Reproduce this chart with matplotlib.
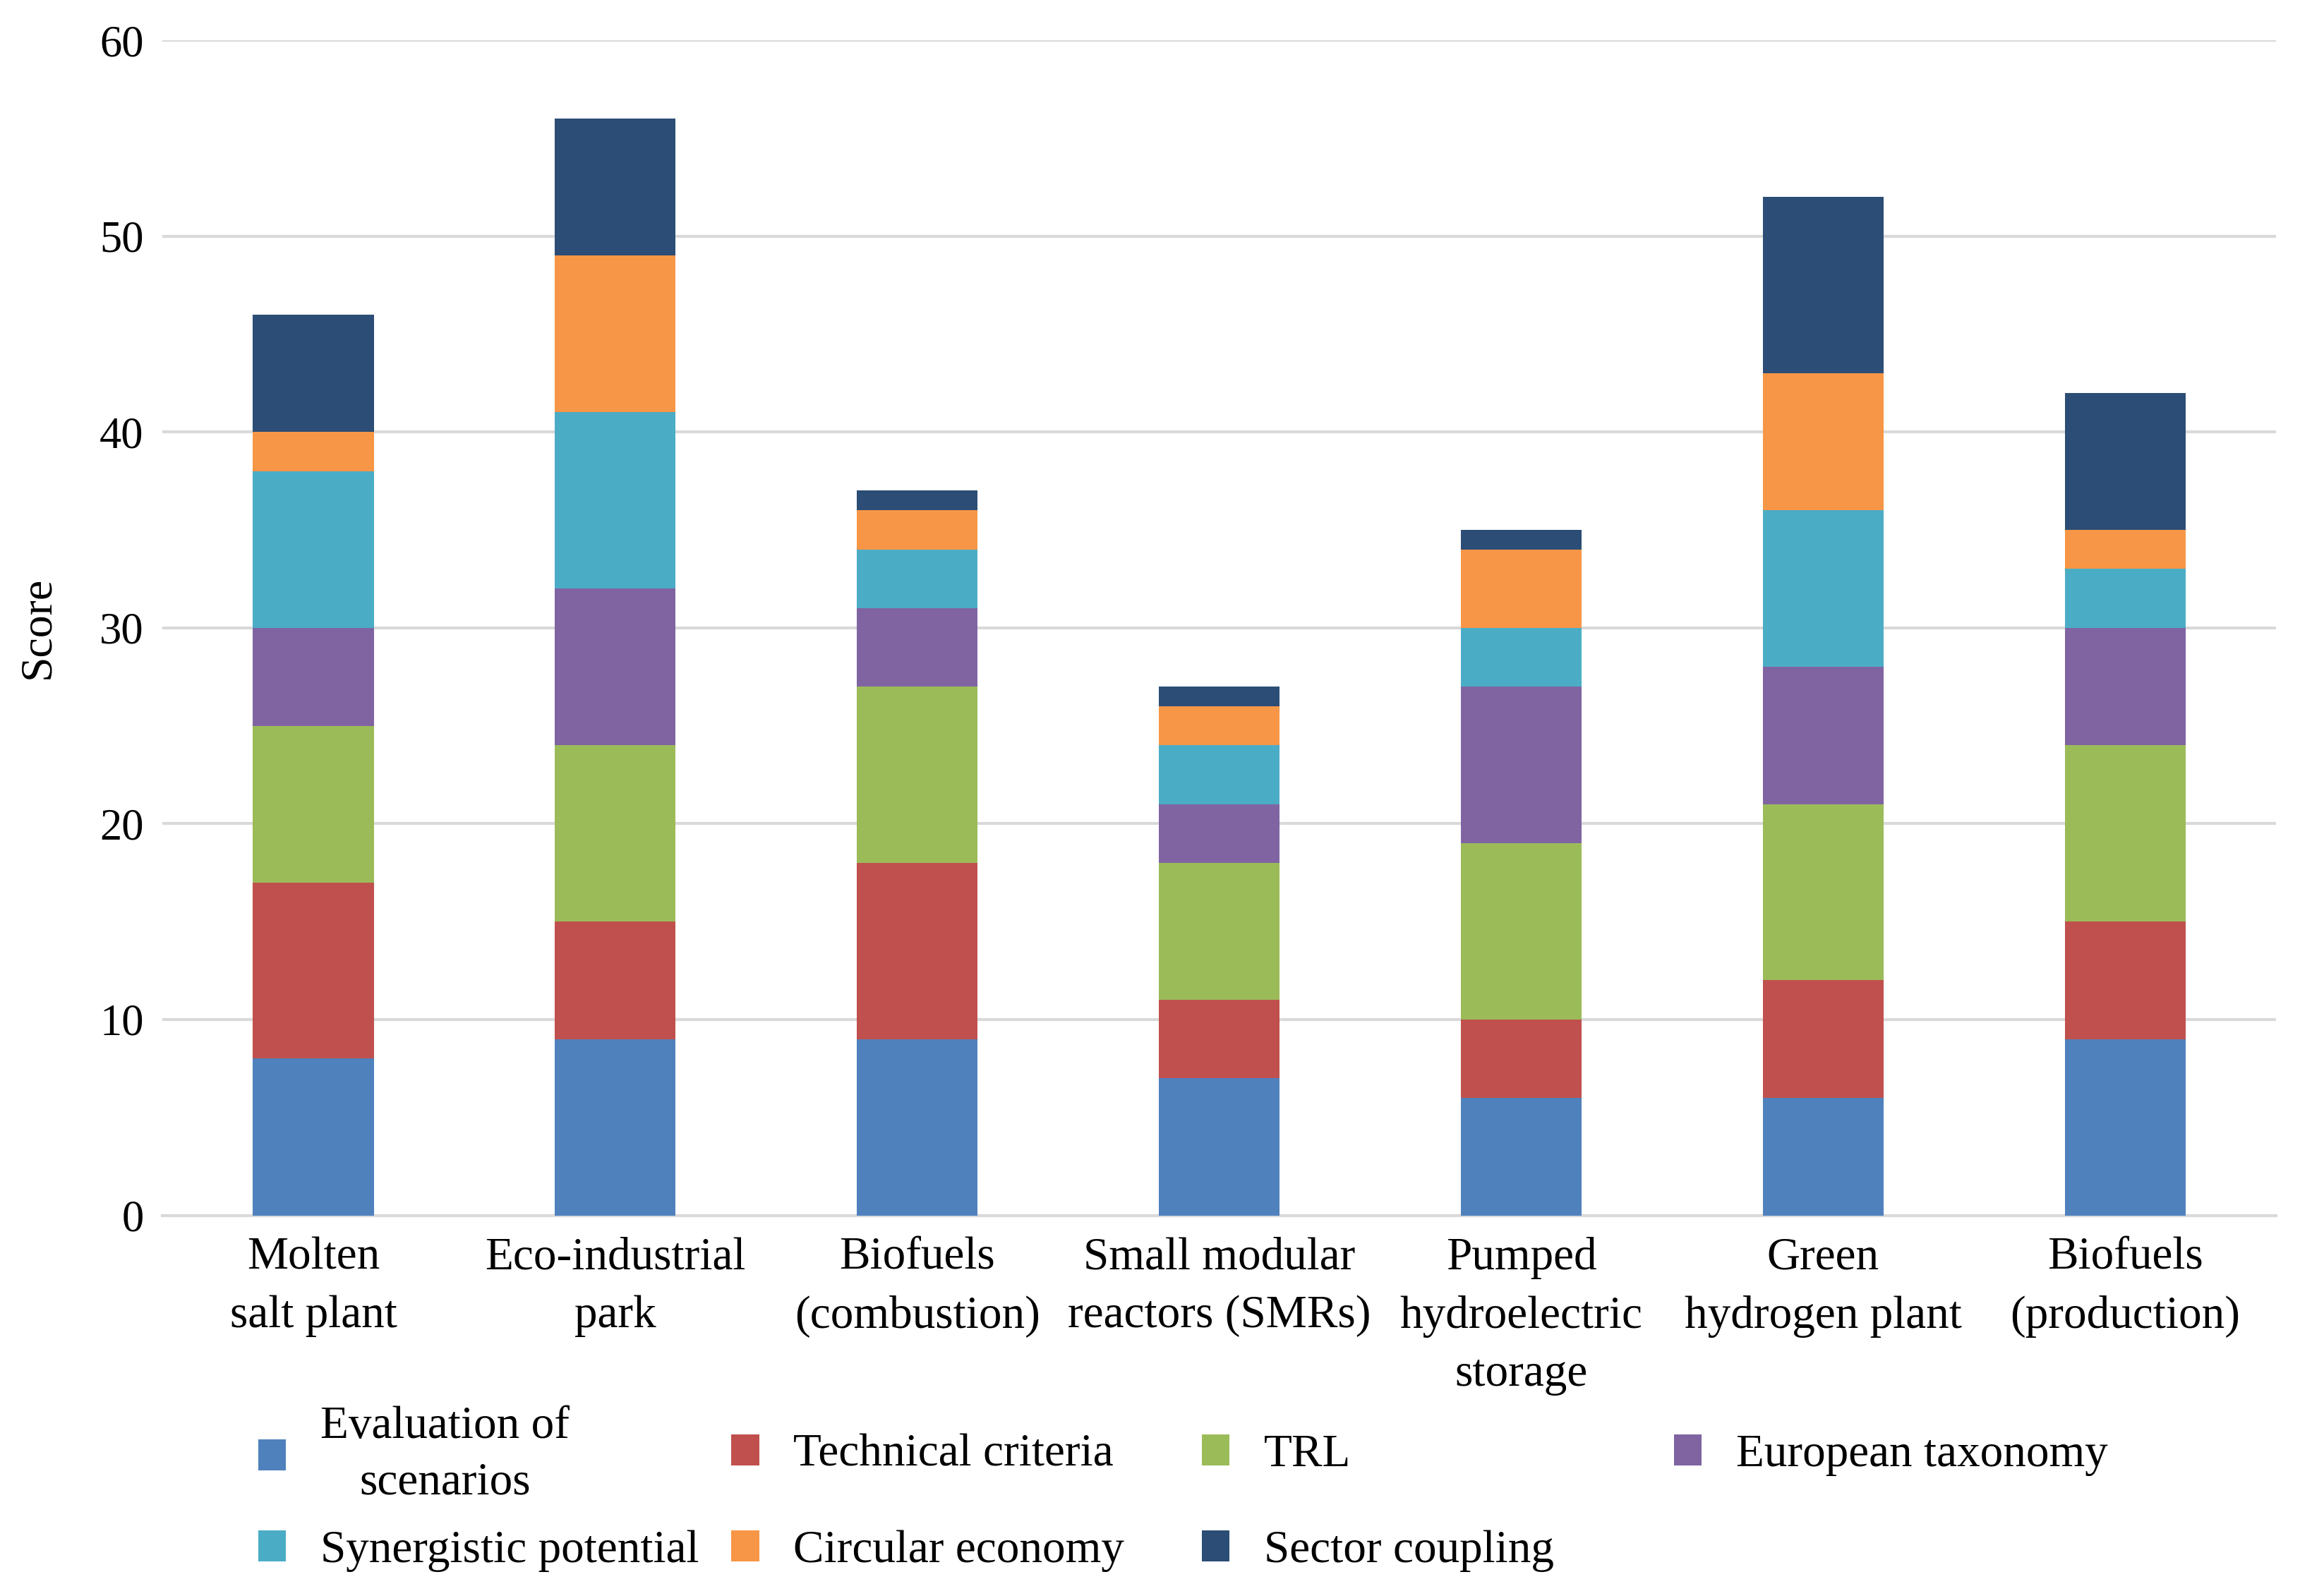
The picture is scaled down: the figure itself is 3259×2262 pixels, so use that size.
#!/usr/bin/env python

import numpy as np
from matplotlib import pyplot as plt

categories = ['Molten\nsalt plant', 'Eco-industrial\npark',
              'Biofuels\n(combustion)', 'Small modular\nreactors (SMRs)',
              'Pumped\nhydroelectric\nstorage', 'Green\nhydrogen plant',
              'Biofuels\n(production)']

series_names = ['Evaluation of\nscenarios', 'Technical criteria', 'TRL',
                'European taxonomy', 'Synergistic potential',
                'Circular economy', 'Sector coupling']

evaluation = [8, 9, 9, 7, 6, 6, 9]
technical = [9, 6, 9, 4, 4, 6, 6]
trl = [8, 9, 9, 7, 9, 9, 9]
taxonomy = [5, 8, 4, 3, 8, 7, 6]
synergy = [8, 9, 3, 3, 3, 8, 3]
circular = [2, 8, 2, 2, 4, 7, 2]
coupling = [6, 7, 1, 1, 1, 9, 7]

colors = ['#4F81BD', '#C0504D', '#9BBB59', '#8064A2', '#4BACC6',
          '#F79646', '#2C4D75']

plt.rcParams['font.family'] = ['Liberation Serif', 'DejaVu Serif']

fig = plt.figure(figsize=(32.59, 22.62), dpi=100)
ax = fig.add_axes([0.0706, 0.2385, 0.919, 0.7363])

x = np.arange(len(categories))
bottom = np.zeros(len(categories))
handles = []
for name, vals, col in zip(series_names,
                           [evaluation, technical, trl, taxonomy, synergy,
                            circular, coupling], colors):
    bars = ax.bar(x, vals, 0.4, bottom=bottom, color=col, label=name,
                  zorder=3)
    handles.append(bars)
    bottom += np.array(vals)

ax.set_xlim(-0.5, len(categories) - 0.5)
ax.set_ylim(0, 60)
ax.set_yticks(range(0, 61, 10))
ax.set_xticks(x)
ax.set_xticklabels(categories, fontsize=47, linespacing=1.5)
ax.tick_params(axis='x', length=0, pad=22)
ax.tick_params(axis='y', length=0, pad=19, labelsize=45)
ax.grid(axis='y', color='#D9D9D9', linewidth=3, zorder=0)
for side in ['top', 'right', 'left']:
    ax.spines[side].set_visible(False)
ax.spines['bottom'].set_color('#D9D9D9')
ax.spines['bottom'].set_linewidth(3)
ax.set_ylabel('Score', fontsize=46)
ax.yaxis.set_label_coords(-0.049, 0.5)

# Excel-like legend grid: one small legend per entry
col_x = [0.1123, 0.318, 0.5225, 0.7278]
row_y = [0.0884, 0.0283]
for i, (h, name) in enumerate(zip(handles, series_names)):
    r, c = divmod(i, 4)
    leg = fig.legend([h], [name], loc='center left',
                     bbox_to_anchor=(col_x[c], row_y[r]), frameon=False,
                     fontsize=47, borderpad=0, borderaxespad=0,
                     handlelength=0.6, handleheight=0.65, handletextpad=0.75)
    for t in leg.get_texts():
        t.set_multialignment('center')
        t.set_linespacing(1.45)

plt.savefig('out.png', dpi=100)
